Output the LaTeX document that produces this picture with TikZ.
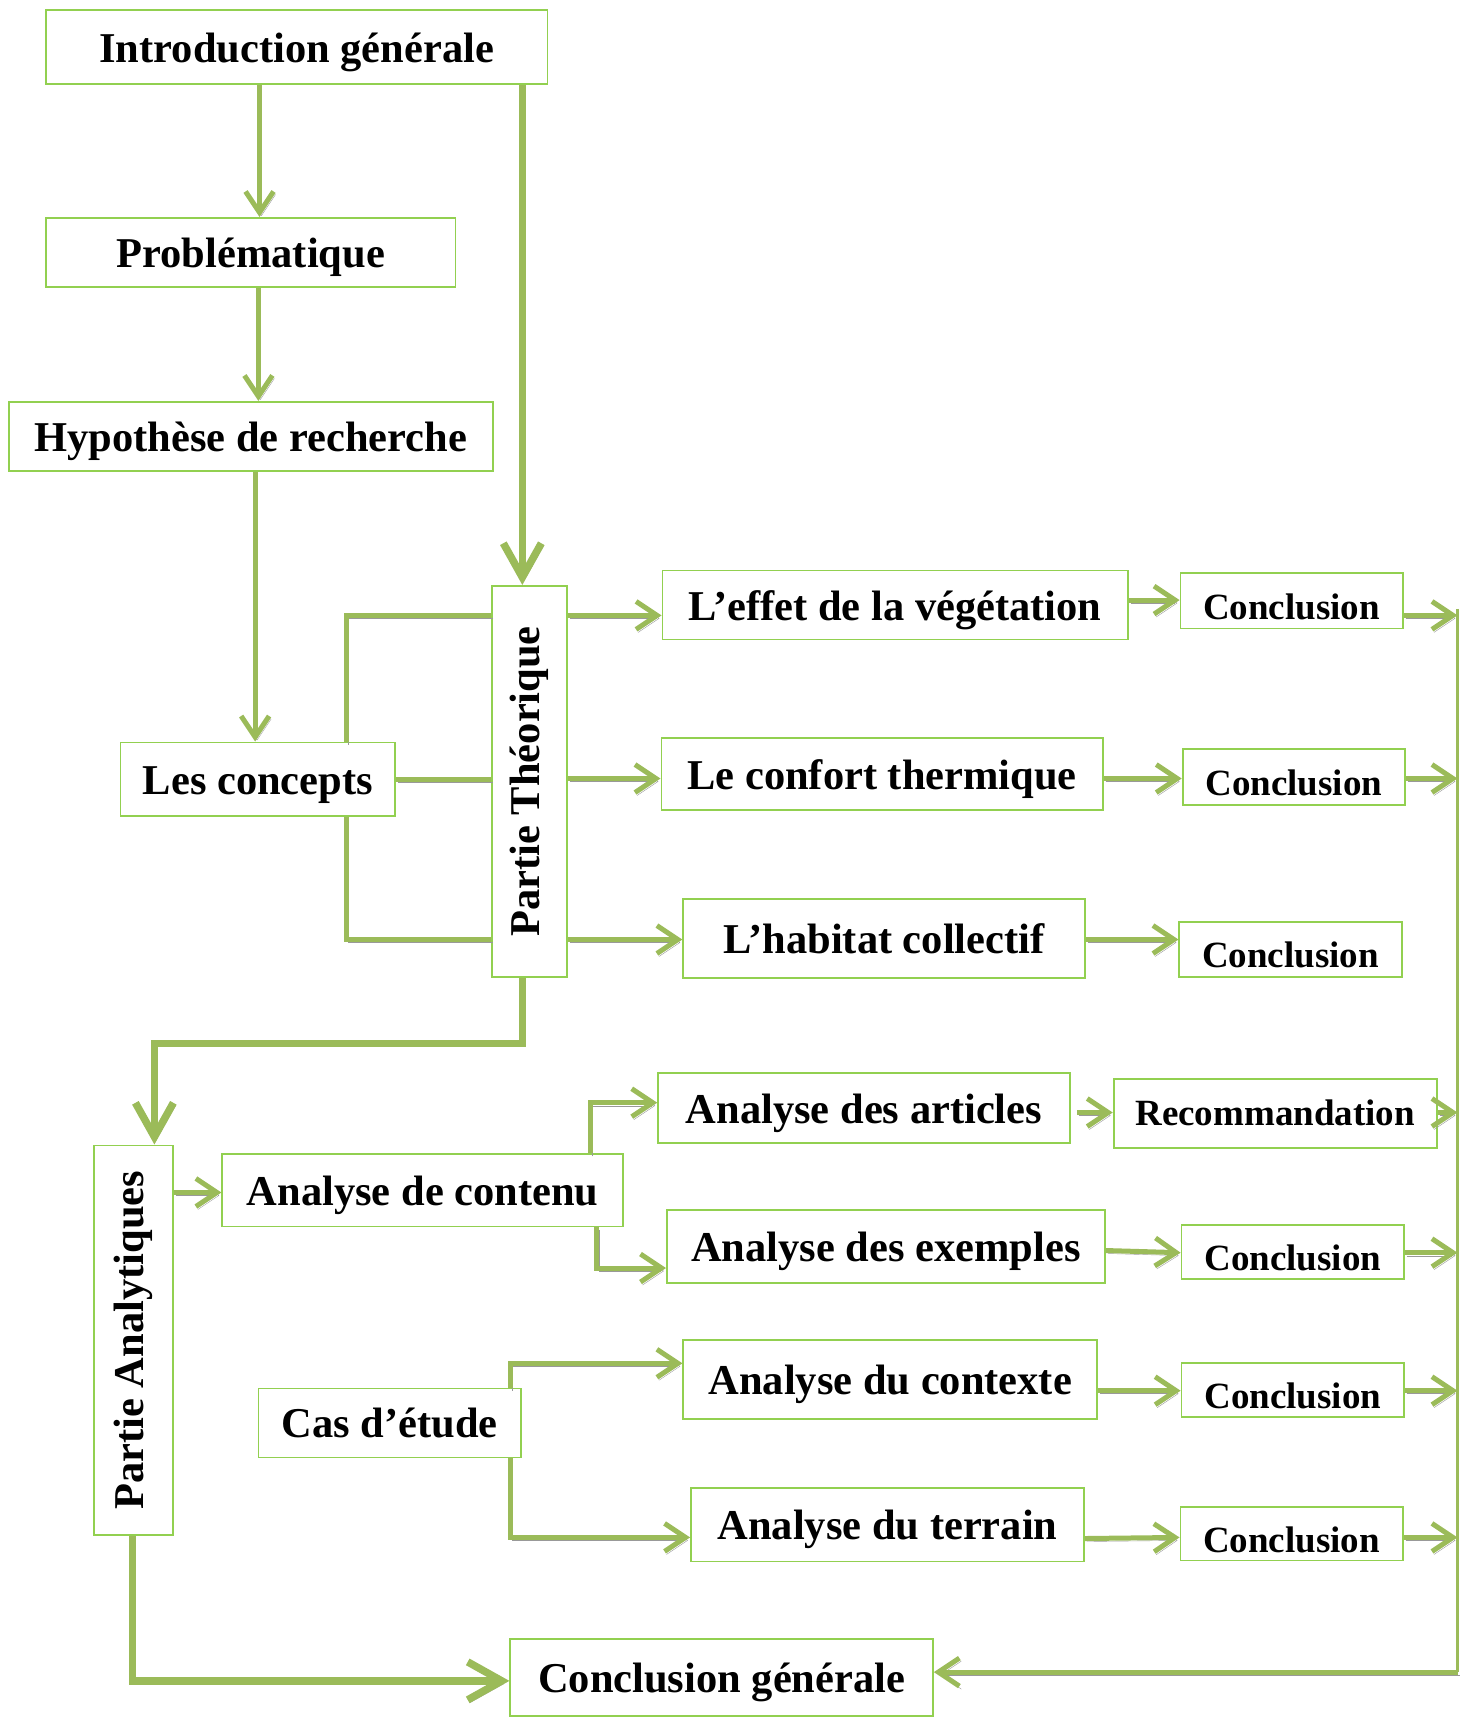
\documentclass[tikz,border=0pt]{standalone}
\usepackage{fontspec}
\usepackage{graphicx}
\setmainfont{Liberation Serif}
\usetikzlibrary{arrows.meta,calc}
\definecolor{linegreen}{HTML}{9BBB59}
\definecolor{boxgreen}{HTML}{92D050}
\definecolor{shadowgray}{HTML}{999999}
\newcommand\bigf{\fontsize{42.5}{46}\selectfont\bfseries}
\newcommand\smallf{\fontsize{37}{40}\selectfont\bfseries}
\newcommand\mybox[7][]{\node[box,tb,#1,minimum width={(#5-#3)*1.0953pt},minimum height={(#6-#4)*1.0953pt}] (#2) at ({(#3+#5)/2},{(#4+#6)/2}) {#7};}
\newcommand\myrbox[6]{\node[box,minimum width={(#4-#2)*1.0953pt},minimum height={(#5-#3)*1.0953pt}] (#1) at ({(#2+#4)/2},{(#3+#5)/2}) {\rotatebox{90}{#6}};}
\begin{document}
\begin{tikzpicture}[x=1.0953pt,y=-1.0953pt,
  box/.style={draw=boxgreen,line width=1.8pt,fill=white,inner sep=0pt,font=\bigf,text=black},
  tb/.style={text height=30pt,text depth=0pt},
  small/.style={font=\smallf,text height=37pt},
  reco/.style={font=\smallf,text height=24pt},
  shad/.style={preaction={draw=shadowgray,transform canvas={xshift=2pt,yshift=-3pt}}},
  link/.style={draw=linegreen,line width=5pt,shad},
  conn/.style={link,-{Straight Barb[length=21pt,width=28pt]}},
  thickconn/.style={draw=linegreen,line width=7.5pt,shad,-{Straight Barb[length=34pt,width=38pt]}},
  bus/.style={draw=linegreen,line width=3pt}]
\useasboundingbox (0,0) rectangle (1333,1568);
% boxes
\mybox{intro}{42}{9}{500}{77}{Introduction générale}
\mybox{probl}{42}{199}{416}{262}{Problématique}
\mybox{hyp}{8}{367}{450}{430}{Hypothèse de recherche}
\mybox{concepts}{110}{678}{361}{745}{Les concepts}
\myrbox{PT}{449}{535}{518}{892}{Partie Théorique}
\mybox{effet}{605}{521}{1030}{584}{L’effet de la végétation}
\mybox{confort}{604}{674}{1007}{740}{Le confort thermique}
\mybox{habitat}{624}{821}{991}{893}{L’habitat collectif}
\mybox[small]{c1}{1078}{523}{1281}{574}{Conclusion}
\mybox[small]{c2}{1080}{684}{1283}{735}{Conclusion}
\mybox[small]{c3}{1077}{842}{1280}{892}{Conclusion}
\myrbox{PA}{86}{1046}{158}{1402}{Partie Analytiques}
\mybox{AdC}{203}{1054}{569}{1120}{Analyse de contenu}
\mybox{articles}{601}{980}{977}{1044}{Analyse des articles}
\mybox[reco]{reco}{1017}{985}{1312}{1048}{Recommandation}
\mybox{exemples}{609}{1105}{1009}{1172}{Analyse des exemples}
\mybox[small]{c4}{1079}{1119}{1282}{1168}{Conclusion}
\mybox{cas}{236}{1268}{476}{1331}{Cas d’étude}
\mybox{contexte}{624}{1224}{1002}{1296}{Analyse du contexte}
\mybox[small]{c5}{1079}{1245}{1282}{1294}{Conclusion}
\mybox{terrain}{631}{1359}{990}{1426}{Analyse du terrain}
\mybox[small]{c6}{1078}{1376}{1281}{1425}{Conclusion}
\mybox{cg}{466}{1497}{852}{1567}{Conclusion générale}
% bus coordinates
\coordinate (busTop) at (1331,556);
\coordinate (busBot) at (1331,1527);
% top chain
\draw[conn] (237,0 |- intro.south) -- (237,0 |- probl.north);
\draw[conn] (236,0 |- probl.south) -- (236,0 |- hyp.north);
\draw[conn] (233,0 |- hyp.south) -- (233,0 |- concepts.north);
\draw[thickconn] (477,0 |- intro.south) -- (477,0 |- PT.north);
% concepts to PT
\draw[link] (concepts.east) -- (concepts.east -| PT.west);
\draw[link] (316,0 |- concepts.north) -- (316,562) -- (PT.west |- 0,562);
\draw[link] (316,0 |- concepts.south) -- (316,858) -- (PT.west |- 0,858);
% PT to themes
\draw[conn] (PT.east |- 0,562) -- (effet.west |- 0,562);
\draw[conn] (PT.east |- 0,711) -- (confort.west |- 0,711);
\draw[conn] (PT.east |- 0,858) -- (habitat.west |- 0,858);
\draw[conn] (effet.east |- 0,548) -- (c1.west |- 0,548);
\draw[conn] (confort.east |- 0,711) -- (c2.west |- 0,711);
\draw[conn] (habitat.east |- 0,858) -- (c3.west |- 0,858);
\draw[conn] (c1.east |- 0,562) -- (busTop |- 0,562);
\draw[conn] (c2.east |- 0,711) -- (busTop |- 0,711);
% PT to PA
\draw[thickconn] (477,0 |- PT.south) -- (477,953) -- (141,953) -- (141,0 |- PA.north);
% analytic part
\draw[conn] (PA.east |- 0,1089) -- (AdC.west |- 0,1089);
\draw[conn] (539,0 |- AdC.north) -- (539,1007) -- (articles.west |- 0,1007);
\draw[conn] (545,0 |- AdC.south) -- (545,1158) -- (exemples.west |- 0,1158);
\draw[conn,shorten <=6pt] (articles.east |- 0,1016) -- (reco.west |- 0,1016);
\draw[conn] (reco.east |- 0,1016) -- (busTop |- 0,1016);
\draw[conn] (exemples.east |- 0,1142) -- (c4.west |- 0,1144);
\draw[conn] (c4.east |- 0,1144) -- (busTop |- 0,1144);
\draw[conn] (466,0 |- cas.north) -- (466,1245) -- (contexte.west |- 0,1245);
\draw[conn] (466,0 |- cas.south) -- (466,1404) -- (terrain.west |- 0,1404);
\draw[conn] (contexte.east |- 0,1270) -- (c5.west |- 0,1270);
\draw[conn] (c5.east |- 0,1270) -- (busTop |- 0,1270);
\draw[conn] (terrain.east |- 0,1405) -- (c6.west |- 0,1404);
\draw[conn] (c6.east |- 0,1404) -- (busTop |- 0,1404);
% bus and final
\draw[bus] (busTop) -- (busBot);
\draw[conn] (busBot) -- (cg.east |- busBot);
\draw[thickconn] (121,0 |- PA.south) -- (121,1535) -- (cg.west |- 0,1535);
\end{tikzpicture}
\end{document}
